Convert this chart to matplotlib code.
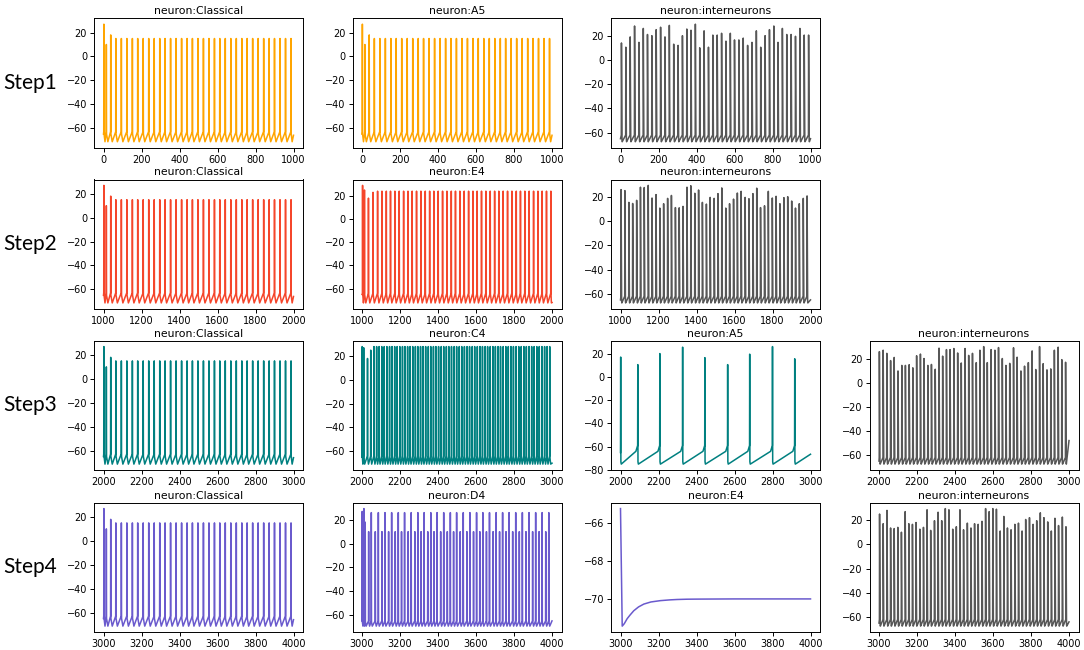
"""Membrane potential traces per neuron type across the four stimulation steps."""
import matplotlib.pyplot as plt
from matplotlib.ticker import MultipleLocator

# ---- values (time in ms, potential in mV) ----
STEP_LABELS = ["Step1", "Step2", "Step3", "Step4"]
STEP_START = [0, 1000, 2000, 3000]
STEP_COLORS = ["#FFA500", "#F5462B", "#008080", "#6A5ACD"]
INTER_COLOR = "#575757"

# Classical neuron: identical response in every step (times relative to step start)
CLASSICAL_T = [2, 15, 38, 65, 94, 123, 152, 180, 209, 238, 267, 296, 324, 353,
               382, 411, 440, 468, 497, 526, 555, 584, 612, 641, 670, 699, 728,
               756, 785, 814, 843, 872, 900, 929, 958, 987]
CLASSICAL_BURST_V = [27, 10, 18]
CLASSICAL_PEAK = 15

# E4 in step 2
E4_T = [1003, 1013, 1034, 1058, 1082, 1105, 1128, 1150, 1173, 1196, 1219, 1242,
        1264, 1287, 1310, 1333, 1356, 1378, 1401, 1424, 1447, 1470, 1492, 1515,
        1538, 1561, 1584, 1606, 1629, 1652, 1675, 1698, 1720, 1743, 1766, 1789,
        1812, 1834, 1857, 1880, 1903, 1926, 1948, 1971, 1994]
E4_BURST_V = [29, 25, 18, 23]
E4_PEAK = 24

# C4 in step 3
C4_T = [2001, 2009, 2029, 2046,
        2063, 2077, 2090, 2104, 2117, 2131, 2145, 2158, 2172, 2185, 2199, 2213,
        2226, 2240, 2253, 2267, 2281, 2294, 2308, 2321, 2335, 2349, 2362, 2376,
        2389, 2403, 2417, 2430, 2444, 2457, 2471, 2485, 2498, 2512, 2525, 2539,
        2553, 2566, 2580, 2593, 2607, 2621, 2634, 2648, 2661, 2675, 2689, 2702,
        2716, 2729, 2743, 2757, 2770, 2784, 2797, 2811, 2825, 2838, 2852, 2865,
        2879, 2893, 2906, 2920, 2933, 2947, 2961, 2974, 2988]
C4_BURST_V = [28, 27, 18, 25]
C4_PEAK = 28

# A5 in step 3
A5_T = [2001, 2091, 2207, 2327, 2444, 2564, 2680, 2800, 2917]
A5_V = [17, 10.5, 20, 25.5, 16.5, 10.5, 19.5, 26, 15.5]

# D4 in step 4: initial burst, then alternating short / tall spikes
D4_BURST_T = [3001, 3010, 3017]
D4_BURST_V = [27, 29.4, 18]
D4_SHORT_T = [3035, 3070, 3105, 3140, 3175, 3208, 3243, 3278, 3311, 3346, 3379,
              3414, 3449, 3482, 3517, 3552, 3587, 3620, 3655, 3690, 3724, 3758,
              3793, 3828, 3863, 3898, 3932, 3967]
D4_TALL_T = [3049, 3086, 3121, 3156, 3191, 3224, 3259, 3294, 3327, 3362, 3395,
             3430, 3465, 3498, 3533, 3568, 3603, 3636, 3671, 3706, 3740, 3774,
             3809, 3844, 3879, 3914, 3948, 3983]
D4_SHORT_V = 10
D4_TALL_V = 26

# E4 in step 4: no spikes, relaxation to rest
E4_REST_T = [3000, 3009, 3020, 3035, 3050, 3070, 3095, 3123, 3160, 3210, 3260,
             3298, 3350, 3400, 3600, 4000]
E4_REST_V = [-65.25, -71.43, -71.3, -71.04, -70.85, -70.62, -70.42, -70.27, -70.16,
             -70.09, -70.05, -70.03, -70.015, -70.01, -70.0, -70.0]

# interneurons, one spike train per step
INT1_T = [5, 28, 51, 74, 97, 120, 142, 165, 188, 211, 234, 257, 280, 303, 326,
          349, 371, 394, 417, 440, 463, 486, 509, 532, 555, 578, 600, 623, 646,
          669, 692, 715, 738, 761, 784, 807, 829, 852, 875, 898, 921, 944, 967, 990]
INT1_V = [14, 10.5, 19, 28, 14.5, 26, 21, 20, 25, 27, 19, 28.5, 13, 12, 20, 25.5,
          24.5, 29.5, 10, 24, 10.5, 20.5, 20.5, 22, 15.5, 22, 16.5, 16.5, 18, 12,
          14.5, 24, 10.5, 20, 25, 28, 14.5, 26, 21, 21, 19.5, 26, 20.5, 20.5]
INT2_T = [1003, 1023, 1044, 1064, 1085, 1105, 1125, 1146, 1166, 1187, 1207, 1227,
          1248, 1268, 1289, 1309, 1329, 1350, 1370, 1391, 1411, 1431, 1452, 1472,
          1493, 1513, 1533, 1554, 1574, 1595, 1615, 1635, 1656, 1676, 1697, 1717,
          1737, 1758, 1778, 1799, 1819, 1839, 1860, 1880, 1901, 1921, 1941, 1962, 1982]
INT2_V = [25.8, 25, 15.3, 14.4, 17, 27.8, 27.5, 29.3, 18.9, 21.7, 10.6, 14.2, 18.6,
          21, 11, 10.8, 12, 27.8, 29, 22.8, 25.5, 15.3, 13.9, 19.4, 18.6, 22.5, 27.2,
          10.6, 14.2, 18, 23, 24.4, 19.4, 18.3, 22.5, 27, 11, 12.5, 24.4, 18.9, 20.3,
          14.2, 19.2, 20, 16.4, 10.6, 14.2, 18.6, 20.6]
INT3_T = [2002, 2022, 2041, 2061, 2080, 2100, 2120, 2139, 2159, 2178, 2198, 2218,
          2237, 2257, 2276, 2296, 2316, 2335, 2355, 2374, 2394, 2414, 2433, 2453,
          2472, 2492, 2512, 2531, 2551, 2570, 2590, 2610, 2629, 2649, 2668, 2688,
          2708, 2727, 2747, 2766, 2786, 2806, 2825, 2845, 2864, 2884, 2904, 2923,
          2943, 2962, 2982]
INT3_V = [25.7, 26.9, 24.3, 18.3, 20.9, 9.7, 14.3, 14.3, 14.9, 12.3, 22.3, 23.7,
          20, 14.3, 15.1, 11.1, 28.6, 22, 27.4, 27.4, 28.3, 24.6, 16.3, 28.3, 22.6,
          24.3, 16.6, 26.9, 29.9, 16.6, 27.4, 26.9, 29.1, 20, 14.3, 16, 28.9, 21.1,
          9.7, 13.7, 16.6, 26.3, 10.9, 29.9, 15.7, 10.6, 11.4, 26.9, 29.4, 19.1, 16.9]
INT4_T = [3003, 3022, 3042, 3061, 3080, 3099, 3118, 3138, 3157, 3176, 3195, 3215,
          3234, 3253, 3272, 3292, 3311, 3330, 3349, 3368, 3388, 3407, 3426, 3445,
          3465, 3484, 3503, 3522, 3542, 3561, 3580, 3599, 3618, 3638, 3657, 3676,
          3695, 3715, 3734, 3753, 3772, 3792, 3811, 3830, 3849, 3868, 3888, 3907,
          3926, 3945, 3965, 3984]
INT4_V = [25, 17, 28, 13.5, 13, 14, 10, 27, 17, 16.5, 18, 12.5, 14, 28.5, 11.5,
          19.5, 26.5, 19.5, 29.5, 28.5, 12.5, 14.5, 28.5, 12, 17.5, 13.5, 17, 16.5,
          19, 29.5, 27, 29.5, 29, 11, 23, 13.5, 12, 16.5, 17.5, 11, 20.5, 22, 16.5,
          19.5, 26, 22, 18.5, 11, 21.5, 15.5, 22.5, 14.5]

# levels of each waveform: (pre-spike, reset, trough, ms to trough, knee, ms to fall)
RS_SHAPE = (-63, -65, -71.4, 8, None, 1)
E4_SHAPE = (-64, -65, -72.3, 7, None, 1)
C4_SHAPE = (-64, -65, -70.8, 5, None, 1)
D4_SHAPE = (-65, -66, -69.4, 5, None, 1)
A5_SHAPE = (-59, -73, -75, 3, (10, -64), 1)
INT_SHAPE = (-62, -66, -67.5, 4, None, 3)


def spike_trace(times, peaks, shape, start, end):
    """Join the read spike times/peaks into one polyline."""
    pre, reset, trough, delay, knee, fall = shape
    xs, ys = [start[0]], [start[1]]
    last = start[0]
    for i, (t, p) in enumerate(zip(times, peaks)):
        if knee and i > 0 and t - knee[0] > last:
            xs.append(t - knee[0]); ys.append(knee[1])
        nxt = times[i + 1] if i + 1 < len(times) else end[0]
        d = max(fall + 0.5, min(delay, 0.45 * (nxt - t)))
        xs += [t - 0.8, t, t + fall, t + d]
        ys += [pre, p, reset, trough]
        last = t + d
    xs.append(end[0]); ys.append(end[1])
    return xs, ys


def with_regular(burst, peak, times):
    return burst + [peak] * (len(times) - len(burst))


def classical(step):
    t0 = STEP_START[step]
    times = [t0 + t for t in CLASSICAL_T]
    peaks = with_regular(CLASSICAL_BURST_V, CLASSICAL_PEAK, CLASSICAL_T)
    return spike_trace(times, peaks, RS_SHAPE, (t0, -65), (t0 + 1000, -66))


d4_t = D4_BURST_T + D4_SHORT_T + D4_TALL_T
d4_v = D4_BURST_V + [D4_SHORT_V] * len(D4_SHORT_T) + [D4_TALL_V] * len(D4_TALL_T)
d4_pairs = sorted(zip(d4_t, d4_v))

TRACES = {
    "E4_2": spike_trace(E4_T, with_regular(E4_BURST_V, E4_PEAK, E4_T), E4_SHAPE,
                        (1000, -65), (2000, -72)),
    "C4_3": spike_trace(C4_T, with_regular(C4_BURST_V, C4_PEAK, C4_T), C4_SHAPE,
                        (2000, -65), (3000, -70)),
    "A5_3": spike_trace(A5_T, A5_V, A5_SHAPE, (2000, -65), (3000, -66.5)),
    "D4_4": spike_trace([p[0] for p in d4_pairs], [p[1] for p in d4_pairs], D4_SHAPE,
                        (3000, -65), (4000, -65)),
    "E4_4": (E4_REST_T, E4_REST_V),
    "INT_1": spike_trace(INT1_T, INT1_V, INT_SHAPE, (0, -65), (1000, -65)),
    "INT_2": spike_trace(INT2_T, INT2_V, INT_SHAPE, (1000, -65), (2000, -65)),
    "INT_3": spike_trace(INT3_T, INT3_V, INT_SHAPE, (2000, -65), (3000, -48)),
    "INT_4": spike_trace(INT4_T, INT4_V, INT_SHAPE, (3000, -65), (4000, -64)),
}

# rows of (title, trace, colour)
PANELS = [
    [("Classical", classical(0), 0), ("A5", classical(0), 0), ("interneurons", TRACES["INT_1"], None)],
    [("Classical", classical(1), 1), ("E4", TRACES["E4_2"], 1), ("interneurons", TRACES["INT_2"], None)],
    [("Classical", classical(2), 2), ("C4", TRACES["C4_3"], 2), ("A5", TRACES["A5_3"], 2),
     ("interneurons", TRACES["INT_3"], None)],
    [("Classical", classical(3), 3), ("D4", TRACES["D4_4"], 3), ("E4", TRACES["E4_4"], 3),
     ("interneurons", TRACES["INT_4"], None)],
]

W, H = 1084, 650
COL_LEFT = [94, 352.5, 611, 869.5]
ROW_TOP = [18.3, 179.5, 340.7, 502.7]
AX_W, AX_H = 209, 129.3

fig = plt.figure(figsize=(W / 100, H / 100), dpi=100)
for r, row in enumerate(PANELS):
    for c, (name, (xs, ys), ci) in enumerate(row):
        ax = fig.add_axes([COL_LEFT[c] / W, 1 - (ROW_TOP[r] + AX_H) / H, AX_W / W, AX_H / H])
        color = INTER_COLOR if ci is None else STEP_COLORS[ci]
        ax.plot(xs, ys, color=color, lw=1.1)
        ax.set_title(f"neuron:{name}", fontsize=7.8, pad=3)
        ax.xaxis.set_major_locator(MultipleLocator(200))
        ax.yaxis.set_major_locator(MultipleLocator(2 if name == "E4" and r == 3 else 20))
        ax.tick_params(labelsize=7, length=3, width=0.7, pad=2)
        for s in ax.spines.values():
            s.set_linewidth(0.7)
    fig.text(30 / W, 1 - (ROW_TOP[r] + AX_H / 2) / H, STEP_LABELS[r],
             ha="center", va="center", fontsize=15, family="Lato")

fig.savefig("out.png", dpi=100)
